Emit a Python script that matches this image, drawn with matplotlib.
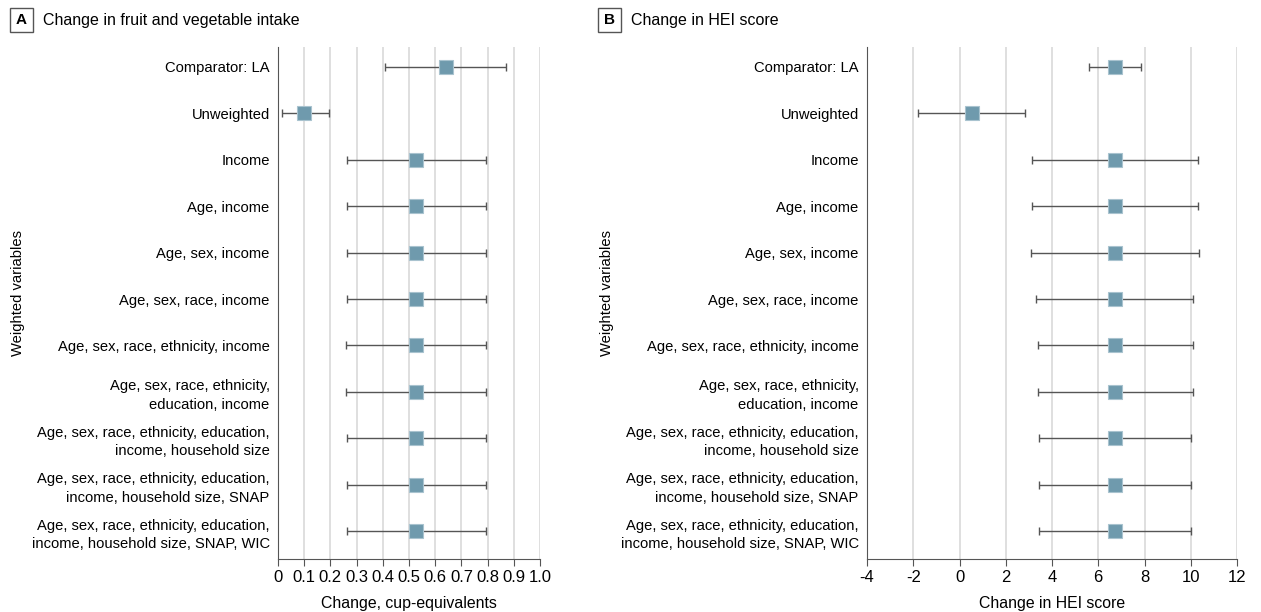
import numpy as np
import matplotlib.pyplot as plt
from matplotlib.patches import Rectangle

plt.rcParams['font.family'] = ['Liberation Sans Narrow', 'Liberation Sans', 'DejaVu Sans']

# Data
labels = [
    'Comparator: LA',
    'Unweighted',
    'Income',
    'Age, income',
    'Age, sex, income',
    'Age, sex, race, income',
    'Age, sex, race, ethnicity, income',
    'Age, sex, race, ethnicity,\neducation, income',
    'Age, sex, race, ethnicity, education,\nincome, household size',
    'Age, sex, race, ethnicity, education,\nincome, household size, SNAP',
    'Age, sex, race, ethnicity, education,\nincome, household size, SNAP, WIC',
]

fv_est = [0.64, 0.10, 0.527, 0.527, 0.527, 0.527, 0.527, 0.527, 0.527, 0.527, 0.527]
fv_lo = [0.41, 0.015, 0.263, 0.263, 0.262, 0.263, 0.260, 0.260, 0.262, 0.262, 0.262]
fv_hi = [0.87, 0.195, 0.794, 0.794, 0.795, 0.794, 0.795, 0.795, 0.795, 0.794, 0.794]

hei_est = [6.72, 0.54, 6.72, 6.72, 6.72, 6.72, 6.72, 6.72, 6.72, 6.72, 6.72]
hei_lo = [5.60, -1.78, 3.15, 3.15, 3.10, 3.30, 3.40, 3.40, 3.45, 3.45, 3.45]
hei_hi = [7.85, 2.85, 10.33, 10.30, 10.35, 10.10, 10.10, 10.10, 10.02, 10.00, 10.00]

fv_ticks = [0, 0.1, 0.2, 0.3, 0.4, 0.5, 0.6, 0.7, 0.8, 0.9, 1.0]
fv_ticklabels = ['0', '0.1', '0.2', '0.3', '0.4', '0.5', '0.6', '0.7', '0.8', '0.9', '1.0']
hei_ticks = [-4, -2, 0, 2, 4, 6, 8, 10, 12]

MARKER = '#6f9aad'
BAR = '#555555'
GRID = '#d9d9d9'


def forest(ax, est, lo, hi, ticks, ticklabels, xlim, xlabel):
    y = np.arange(len(labels))
    est = np.array(est)
    err = [est - np.array(lo), np.array(hi) - est]
    for t in ticks[1:]:
        ax.axvline(t, color=GRID, lw=1.2, zorder=0)
    ax.errorbar(est, y, xerr=err, fmt='none', ecolor=BAR, elinewidth=1.0,
                capsize=3, capthick=1.0, zorder=2)
    ax.plot(est, y, 's', ms=9.5, color=MARKER, mec='#a9c3cf', mew=0.8,
            zorder=3)
    ax.set_xlim(*xlim)
    ax.set_ylim(10.6, -0.43)
    ax.set_yticks(y)
    ax.set_yticklabels(labels, fontsize=10.6, linespacing=1.42)
    ax.tick_params(axis='y', length=0, pad=6)
    ax.set_xticks(ticks)
    ax.set_xticklabels(ticklabels, fontsize=12)
    ax.tick_params(axis='x', length=5, color=BAR, pad=3)
    for s in ['top', 'right']:
        ax.spines[s].set_visible(False)
    ax.spines['left'].set_color(BAR)
    ax.spines['bottom'].set_color(BAR)
    ax.set_xlabel(xlabel, fontsize=11.4, labelpad=8)


fig = plt.figure(figsize=(12.61, 6.12), dpi=100)

ax1 = fig.add_axes([278 / 1261, 53 / 612, 262 / 1261, 512 / 612])
forest(ax1, fv_est, fv_lo, fv_hi, fv_ticks, fv_ticklabels, (0, 1.0),
       'Change, cup-equivalents')

ax2 = fig.add_axes([867 / 1261, 53 / 612, 370 / 1261, 512 / 612])
forest(ax2, hei_est, hei_lo, hei_hi, hei_ticks, [str(t) for t in hei_ticks],
       (-4, 12), 'Change in HEI score')

# y axis titles
fig.text(18 / 1261, 1 - 293 / 612, 'Weighted variables', rotation=90,
         ha='center', va='center', fontsize=10.6)
fig.text(607 / 1261, 1 - 293 / 612, 'Weighted variables', rotation=90,
         ha='center', va='center', fontsize=10.6)

# panel titles with boxed letters
for x0, letter, title in [(10, 'A', 'Change in fruit and vegetable intake'),
                          (598, 'B', 'Change in HEI score')]:
    fig.patches.append(Rectangle((x0 / 1261, 1 - 32 / 612), 23 / 1261, 24 / 612,
                                 transform=fig.transFigure, fill=False,
                                 ec='#555555', lw=1.0))
    fig.text((x0 + 11.5) / 1261, 1 - 20 / 612, letter, ha='center',
             va='center', fontsize=11, fontweight='bold')
    fig.text((x0 + 33) / 1261, 1 - 20 / 612, title, ha='left', va='center',
             fontsize=11.5)

fig.savefig('out.png', dpi=100)
